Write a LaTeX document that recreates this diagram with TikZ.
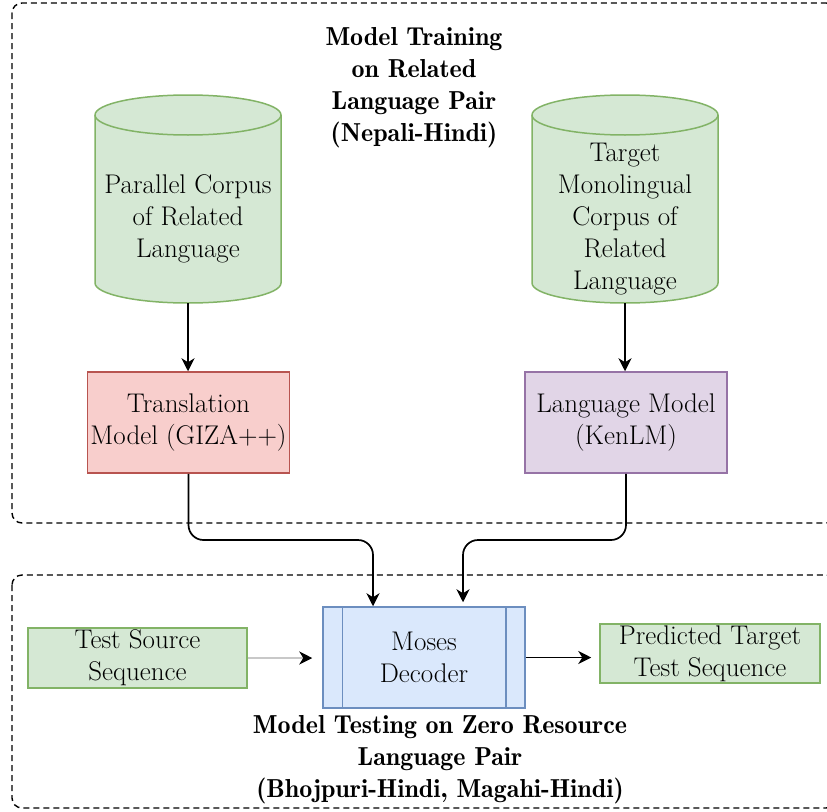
\documentclass[tikz,border=0pt]{standalone}
\usepackage{fontspec}
\setmainfont{Latin Modern Roman}
\newfontfamily\fdemi{Latin Modern Roman Demi}
\usetikzlibrary{arrows.meta,calc}
\definecolor{gfill}{HTML}{D5E8D4}
\definecolor{gdraw}{HTML}{82B366}
\definecolor{rfill}{HTML}{F8CECC}
\definecolor{rdraw}{HTML}{B85450}
\definecolor{pfill}{HTML}{E1D5E7}
\definecolor{pdraw}{HTML}{9673A6}
\definecolor{bfill}{HTML}{DAE8FC}
\definecolor{bdraw}{HTML}{6C8EBF}
\definecolor{lgray}{HTML}{C8C8C8}
\begin{document}
\begin{tikzpicture}[x=1pt,y=-1pt,
  txt/.style={align=center,inner sep=0pt,font=\fontsize{27}{32}\selectfont},
  ttl/.style={align=center,inner sep=0pt,font=\fontsize{26}{32}\selectfont\fdemi},
  boxbase/.style={txt,draw,line width=1.5pt},
  greenbox/.style={boxbase,fill=gfill,draw=gdraw},
  redbox/.style={boxbase,fill=rfill,draw=rdraw},
  purplebox/.style={boxbase,fill=pfill,draw=pdraw},
  bluebox/.style={boxbase,fill=bfill,draw=bdraw},
  frame/.style={draw=black,line width=1.4pt,dash pattern=on 6pt off 4pt,rounded corners=10pt},
  conn/.style={draw=black,line width=1.7pt,-{Stealth[length=13pt,width=13pt,inset=4pt]}},
  cyl/.style={fill=gfill,draw=gdraw,line width=1.5pt}
]
\useasboundingbox (0,0) rectangle (827,811);
\begin{scope}
  \clip (0,0) rectangle (827,811);
  \draw[frame] (12,3) rectangle (836,523);
  \draw[frame] (12,575) rectangle (836,808);
\end{scope}

% titles
\node[ttl] (ttop) at (414,88) {Model Training\\on Related\\Language Pair\\(Nepali-Hindi)};
\node[ttl] (tbot) at (440,760) {Model Testing on Zero Resource\\Language Pair\\(Bhojpuri-Hindi, Magahi-Hindi)};

% left cylinder
\path[cyl] (95,115) -- (95,283) arc[start angle=180,end angle=0,x radius=93,y radius=20]
  -- (281,115) arc[start angle=0,end angle=-180,x radius=93,y radius=20] -- cycle;
\draw[gdraw,line width=1.5pt] (95,115) arc[start angle=180,end angle=0,x radius=93,y radius=20];
\node[txt] (pc) at (188,219) {Parallel Corpus\\of Related\\Language};
\coordinate (pcbot) at (188,303);

% right cylinder
\path[cyl] (532,115) -- (532,283) arc[start angle=180,end angle=0,x radius=93,y radius=20]
  -- (718,115) arc[start angle=0,end angle=-180,x radius=93,y radius=20] -- cycle;
\draw[gdraw,line width=1.5pt] (532,115) arc[start angle=180,end angle=0,x radius=93,y radius=20];
\node[txt] (mc) at (625,219) {Target\\Monolingual\\Corpus of\\Related\\Language};
\coordinate (mcbot) at (625,303);

% models
\node[redbox,minimum width=202pt,minimum height=101pt] (tm) at (188.5,422.5) {Translation\\Model (GIZA++)};
\node[purplebox,minimum width=202pt,minimum height=101pt] (lm) at (626,422.5) {Language Model\\(KenLM)};

\draw[conn] (pcbot) -- (pcbot |- tm.north);
\draw[conn] (mcbot) -- (mcbot |- lm.north);

% testing
\node[bluebox,minimum width=202pt,minimum height=101pt] (moses) at (424,657.5) {Moses\\Decoder};
\draw[bdraw,line width=1.5pt] ([xshift=20pt]moses.north west) -- ([xshift=20pt]moses.south west);
\draw[bdraw,line width=1.5pt] ([xshift=-20pt]moses.north east) -- ([xshift=-20pt]moses.south east);
\node[greenbox,minimum width=219pt,minimum height=60pt] (ts) at (137.5,658) {Test Source\\Sequence};
\node[greenbox,minimum width=220pt,minimum height=59pt] (pt) at (710,653.5) {Predicted Target\\Test Sequence};

\coordinate (jl) at (373,540);
\coordinate (jr) at (463,540);
\draw[conn,rounded corners=15pt] (tm.south) |- (jl) -- (jl |- moses.north);
\draw[conn,rounded corners=15pt,shorten >=4pt] (lm.south) |- (jr) -- (jr |- moses.north);

\draw[draw=lgray,line width=1.2pt,-{Stealth[length=13pt,width=13pt,inset=4pt,color=black]},shorten >=10pt] (ts.east) -- (ts.east -| moses.west);
\draw[conn,shorten >=8pt] (moses.east) -- (moses.east -| pt.west);
\end{tikzpicture}
\end{document}
